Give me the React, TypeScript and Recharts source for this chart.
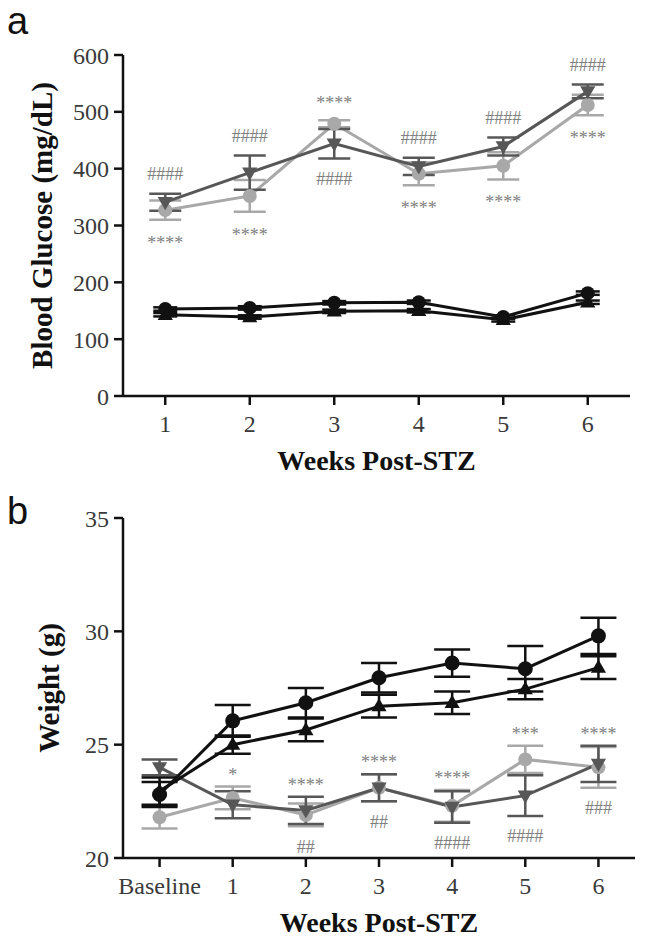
import React from "react";
import { ComposedChart, Line, XAxis, YAxis, ErrorBar, LabelList } from "recharts";

const SERIF = "'Liberation Serif', 'Times New Roman', serif";
const SANS = "'Liberation Sans', Arial, sans-serif";
const INK = "#111111";
const TICK_INK = "#3a3a3a";
const LIGHT = "#a8a8a8";
const DARK = "#575757";
const NOTE = "#808080";

// ---- panel a: blood glucose (mg/dL) ----
const glucoseWeeks = [1, 2, 3, 4, 5, 6];
const glucoseCtlCircle = [153, 155, 164, 165, 139, 181];
const glucoseCtlCircleSem = [3, 3, 3, 3, 3, 3];
const glucoseCtlTriangle = [143, 139, 149, 150, 134, 165];
const glucoseCtlTriangleSem = [3, 3, 3, 3, 3, 3];
const glucoseStzCircle = [327, 352, 479, 391, 405, 512];
const glucoseStzCircleSem = [17, 28, 6, 20, 24, 18];
const glucoseStzTriangle = [341, 393, 444, 404, 439, 536];
const glucoseStzTriangleSem = [15, 30, 26, 15, 16, 12];
const glucoseAbove = ["####", "####", "****", "####", "####", "####"];
const glucoseBelow = ["****", "****", "####", "****", "****", "****"];
const glucoseTicks = [0, 100, 200, 300, 400, 500, 600];
const glucoseXTicks = [1, 2, 3, 4, 5, 6];

// ---- panel b: weight (g) ----
const weightWeeks = [0, 1, 2, 3, 4, 5, 6];
const weightTickLabels = ["Baseline", "1", "2", "3", "4", "5", "6"];
const weightCtlCircle = [22.8, 26.05, 26.85, 27.95, 28.6, 28.35, 29.8];
const weightCtlCircleSem = [0.55, 0.7, 0.65, 0.65, 0.6, 1.0, 0.8];
const weightCtlTriangle = [22.95, 25.0, 25.65, 26.7, 26.85, 27.45, 28.4];
const weightCtlTriangleSem = [0.6, 0.4, 0.5, 0.5, 0.5, 0.45, 0.5];
const weightStzCircle = [21.8, 22.65, 21.9, 23.1, 22.3, 24.35, 24.0];
const weightStzCircleSem = [0.5, 0.5, 0.5, 0.6, 0.7, 0.6, 0.9];
const weightStzTriangle = [24.0, 22.35, 22.1, 23.1, 22.25, 22.75, 24.15];
const weightStzTriangleSem = [0.35, 0.6, 0.6, 0.6, 0.7, 0.9, 0.8];
const weightAbove = ["", "*", "****", "****", "****", "***", "****"];
const weightBelow = ["", "", "##", "##", "####", "####", "###"];
const weightTicks = [20, 25, 30, 35];

function buildRows(
  x: number[], ctlC: number[], ctlCe: number[], ctlT: number[], ctlTe: number[],
  stzC: number[], stzCe: number[], stzT: number[], stzTe: number[],
  above: string[], below: string[],
) {
  return x.map((w, i) => ({
    x: w,
    ctlC: ctlC[i], ctlCe: ctlCe[i],
    ctlT: ctlT[i], ctlTe: ctlTe[i],
    stzC: stzC[i], stzCe: stzCe[i],
    stzT: stzT[i], stzTe: stzTe[i],
    top: Math.max(stzC[i] + stzCe[i], stzT[i] + stzTe[i]),
    bottom: Math.min(stzC[i] - stzCe[i], stzT[i] - stzTe[i]),
    above: above[i],
    below: below[i],
  }));
}

const glucoseRows = buildRows(
  glucoseWeeks, glucoseCtlCircle, glucoseCtlCircleSem, glucoseCtlTriangle, glucoseCtlTriangleSem,
  glucoseStzCircle, glucoseStzCircleSem, glucoseStzTriangle, glucoseStzTriangleSem,
  glucoseAbove, glucoseBelow,
);
const weightRows = buildRows(
  weightWeeks, weightCtlCircle, weightCtlCircleSem, weightCtlTriangle, weightCtlTriangleSem,
  weightStzCircle, weightStzCircleSem, weightStzTriangle, weightStzTriangleSem,
  weightAbove, weightBelow,
);

type DotProps = { cx?: number; cy?: number; index?: number };

const circleDot = (fill: string, r: number) => (p: DotProps) =>
  p.cx == null || p.cy == null
    ? <g key={p.index} />
    : <circle key={p.index} cx={p.cx} cy={p.cy} r={r} fill={fill} />;

const triDot = (fill: string, s: number, down: boolean) => (p: DotProps) => {
  const { cx, cy, index } = p;
  if (cx == null || cy == null) return <g key={index} />;
  const k = down ? -1 : 1;
  const pts = `${cx},${cy - k * s} ${cx - s * 0.95},${cy + k * s * 0.65} ${cx + s * 0.95},${cy + k * s * 0.65}`;
  return <polygon key={index} points={pts} fill={fill} />;
};

// significance marks, offset in px from the extreme error bar of the STZ groups
const noteLabel = (gap: number) => (props: any) => {
  const x = props.x ?? props.viewBox?.x;
  const y = props.y ?? props.viewBox?.y;
  const { value, index } = props;
  if (!value || x == null || y == null) return null;
  const star = String(value).startsWith("*");
  return (
    <text key={index} x={x} y={y + gap} dy={star ? "0.5em" : "0.35em"} textAnchor="middle"
      fontFamily={SERIF} fontSize={18} fill={NOTE}>{value}</text>
  );
};

const yTick = (p: any) => (
  <text x={p.x} y={p.y} dy="0.36em" textAnchor="end" fontFamily={SERIF} fontSize={24} fill={TICK_INK}>
    {p.payload.value}
  </text>
);

const xTick = (labels?: string[]) => (p: any) => (
  <text x={p.x} y={p.y + 27} textAnchor="middle" fontFamily={SERIF} fontSize={24} fill={TICK_INK}>
    {labels ? labels[p.payload.value] : p.payload.value}
  </text>
);

const xTitle = (text: string) => (props: any) => {
  const vb = props.viewBox;
  return (
    <text x={vb.x + vb.width / 2} y={vb.y + 74} textAnchor="middle" fontFamily={SERIF}
      fontWeight="bold" fontSize={28} fill={INK}>{text}</text>
  );
};

const yTitle = (text: string, baseX: number) => (props: any) => {
  const vb = props.viewBox;
  const cy = vb.y + vb.height / 2;
  return (
    <text x={baseX} y={cy} transform={`rotate(-90 ${baseX} ${cy})`} textAnchor="middle"
      fontFamily={SERIF} fontWeight="bold" fontSize={29} fill={INK}>{text}</text>
  );
};

const axisStyle = { stroke: INK, strokeWidth: 2.5 };

function GlucosePanel() {
  return (
    <ComposedChart width={645} height={480} data={glucoseRows}
      margin={{ top: 55, right: 15, bottom: 0, left: 0 }}>
      <XAxis dataKey="x" type="number" domain={[0.5, 6.5]} ticks={glucoseXTicks}
        axisLine={axisStyle} tickLine={axisStyle} tickSize={9} tickMargin={0} height={84}
        tick={xTick()} label={{ content: xTitle("Weeks Post-STZ") }} />
      <YAxis type="number" domain={[0, 600]} ticks={glucoseTicks} width={123}
        axisLine={axisStyle} tickLine={axisStyle} tickSize={9} tickMargin={5}
        tick={yTick} label={{ content: yTitle("Blood Glucose (mg/dL)", 52) }} />

      <Line dataKey="stzC" stroke={LIGHT} strokeWidth={3} isAnimationActive={false}
        dot={circleDot(LIGHT, 7)} activeDot={false}>
        <ErrorBar dataKey="stzCe" width={16} stroke={LIGHT} strokeWidth={2.5} direction="y" />
      </Line>
      <Line dataKey="stzT" stroke={DARK} strokeWidth={3} isAnimationActive={false}
        dot={triDot(DARK, 8, true)} activeDot={false}>
        <ErrorBar dataKey="stzTe" width={16} stroke={DARK} strokeWidth={2.5} direction="y" />
      </Line>
      <Line dataKey="ctlT" stroke={INK} strokeWidth={3} isAnimationActive={false}
        dot={triDot(INK, 8, false)} activeDot={false}>
        <ErrorBar dataKey="ctlTe" width={12} stroke={INK} strokeWidth={2.5} direction="y" />
      </Line>
      <Line dataKey="ctlC" stroke={INK} strokeWidth={3} isAnimationActive={false}
        dot={circleDot(INK, 7)} activeDot={false}>
        <ErrorBar dataKey="ctlCe" width={12} stroke={INK} strokeWidth={2.5} direction="y" />
      </Line>

      <Line dataKey="top" stroke="none" dot={false} activeDot={false} isAnimationActive={false}>
        <LabelList dataKey="above" content={noteLabel(-20)} />
      </Line>
      <Line dataKey="bottom" stroke="none" dot={false} activeDot={false} isAnimationActive={false}>
        <LabelList dataKey="below" content={noteLabel(20)} />
      </Line>
    </ComposedChart>
  );
}

function WeightPanel() {
  return (
    <ComposedChart width={645} height={465} data={weightRows}
      margin={{ top: 38, right: 10, bottom: 0, left: 0 }}>
      <XAxis dataKey="x" type="number" domain={[-0.5, 6.5]} ticks={weightWeeks}
        axisLine={axisStyle} tickLine={axisStyle} tickSize={9} tickMargin={0} height={87}
        tick={xTick(weightTickLabels)} label={{ content: xTitle("Weeks Post-STZ") }} />
      <YAxis type="number" domain={[20, 35]} ticks={weightTicks} width={123}
        axisLine={axisStyle} tickLine={axisStyle} tickSize={9} tickMargin={5}
        tick={yTick} label={{ content: yTitle("Weight (g)", 59) }} />

      <Line dataKey="stzC" stroke={LIGHT} strokeWidth={3} isAnimationActive={false}
        dot={circleDot(LIGHT, 7)} activeDot={false}>
        <ErrorBar dataKey="stzCe" width={18} stroke={LIGHT} strokeWidth={2.5} direction="y" />
      </Line>
      <Line dataKey="stzT" stroke={DARK} strokeWidth={3} isAnimationActive={false}
        dot={triDot(DARK, 8, true)} activeDot={false}>
        <ErrorBar dataKey="stzTe" width={18} stroke={DARK} strokeWidth={2.5} direction="y" />
      </Line>
      <Line dataKey="ctlT" stroke={INK} strokeWidth={3} isAnimationActive={false}
        dot={triDot(INK, 8, false)} activeDot={false}>
        <ErrorBar dataKey="ctlTe" width={18} stroke={INK} strokeWidth={2.5} direction="y" />
      </Line>
      <Line dataKey="ctlC" stroke={INK} strokeWidth={3} isAnimationActive={false}
        dot={circleDot(INK, 7.5)} activeDot={false}>
        <ErrorBar dataKey="ctlCe" width={18} stroke={INK} strokeWidth={2.5} direction="y" />
      </Line>

      <Line dataKey="top" stroke="none" dot={false} activeDot={false} isAnimationActive={false}>
        <LabelList dataKey="above" content={noteLabel(-15)} />
      </Line>
      <Line dataKey="bottom" stroke="none" dot={false} activeDot={false} isAnimationActive={false}>
        <LabelList dataKey="below" content={noteLabel(20)} />
      </Line>
    </ComposedChart>
  );
}

function PanelLetter({ letter, top }: { letter: string; top: number }) {
  return (
    <svg width={50} height={50} style={{ position: "absolute", left: 0, top }}>
      <text x={7} y={37} fontFamily={SANS} fontSize={38} fill={INK}>{letter}</text>
    </svg>
  );
}

export default function App() {
  return (
    <div style={{ position: "absolute", left: 0, top: 0, width: 645, height: 945, background: "#fff" }}>
      <div style={{ position: "absolute", left: 0, top: 0 }}>
        <GlucosePanel />
      </div>
      <div style={{ position: "absolute", left: 0, top: 480 }}>
        <WeightPanel />
      </div>
      <PanelLetter letter="a" top={-3} />
      <PanelLetter letter="b" top={487} />
    </div>
  );
}
